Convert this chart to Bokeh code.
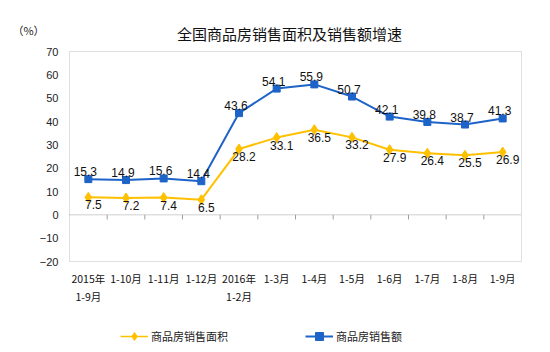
import numpy as np
from bokeh.plotting import figure
from bokeh.models import (ColumnDataSource, LabelSet, Label, FixedTicker,
                          Legend, LegendItem, Range1d, LinearAxis)
from bokeh.core.properties import value
from bokeh.embed import file_html
from bokeh.resources import INLINE

categories = ["2015年\n1-9月", "1-10月", "1-11月", "1-12月", "2016年\n1-2月", "1-3月",
              "1-4月", "1-5月", "1-6月", "1-7月", "1-8月", "1-9月"]
area_growth = [7.5, 7.2, 7.4, 6.5, 28.2, 33.1, 36.5, 33.2, 27.9, 26.4, 25.5, 26.9]
sales_growth = [15.3, 14.9, 15.6, 14.4, 43.6, 54.1, 55.9, 50.7, 42.1, 39.8, 38.7, 41.3]
y_ticks = [70, 60, 50, 40, 30, 20, 10, 0, -10, -20]
series_names = ["商品房销售面积", "商品房销售额"]
title_text = "全国商品房销售面积及销售额增速"
unit_text = "（%）"

BLUE = "#1E64C8"
YELLOW = "#FFC000"
CJK = "Noto Sans CJK SC"
NUM = "Liberation Sans"

W, H = 550, 352
# plotting area in canvas pixels
PL, PR, PT, PB = 69, 521, 51, 261

n = len(categories)
xs = np.arange(n) + 0.5
ymin, ymax = min(y_ticks), max(y_ticks)

# ranges so that the whole canvas is the frame and the data area sits at PL..PR / PT..PB
xu = (PR - PL) / n
yu = (PB - PT) / (ymax - ymin)
x0 = -PL / xu
x1 = x0 + W / xu
y1 = ymax + PT / yu
y0 = y1 - H / yu

src = ColumnDataSource(dict(
    x=xs, area=area_growth, sales=sales_growth,
    area_t=[f"{v:.1f}" for v in area_growth],
    sales_t=[f"{v:.1f}" for v in sales_growth],
))

p = figure(width=W, height=H, output_backend="svg", toolbar_location=None,
           x_range=Range1d(x0, x1), y_range=Range1d(y0, y1),
           x_axis_type=None, y_axis_type=None,
           min_border=0, min_border_left=0, min_border_right=0,
           min_border_top=0, min_border_bottom=0)
p.title.visible = False
p.background_fill_color = "white"
p.border_fill_color = "white"
p.outline_line_color = None
p.grid.visible = False

# axes drawn inside the frame at fixed locations
yax = LinearAxis(fixed_location=0, ticker=FixedTicker(ticks=y_ticks))
yax.axis_line_color = None
yax.major_tick_line_color = None
yax.minor_tick_line_color = None
yax.major_tick_out = 0
yax.major_tick_in = 0
yax.major_label_text_font = NUM
yax.major_label_text_font_size = "11px"
yax.major_label_text_color = "#222222"
yax.major_label_standoff = 11
p.add_layout(yax, "left")

xax = LinearAxis(fixed_location=ymin, ticker=FixedTicker(ticks=list(xs)))
xax.major_label_overrides = {float(x): c for x, c in zip(xs, categories)}
xax.axis_line_color = None
xax.major_tick_line_color = None
xax.minor_tick_line_color = None
xax.major_tick_out = 0
xax.major_tick_in = 0
xax.major_label_text_font = CJK
xax.major_label_text_font_size = "10.5px"
xax.major_label_text_color = "#111111"
xax.major_label_standoff = 9
p.add_layout(xax, "below")

# plotting-area border
p.quad(left=[0], right=[n], bottom=[ymin], top=[ymax], fill_color=None,
       line_color="#BFBFBF", line_dash="1 1", line_width=1)

# zero line and boundary ticks
p.line(x=[0, n], y=[0, 0], line_color="#A0A0A0", line_dash="1 1", line_width=1)
bounds = np.arange(1, n)
p.segment(x0=bounds, x1=bounds, y0=[0] * len(bounds), y1=[-2] * len(bounds),
          line_color="#A0A0A0", line_width=1)

# series
p.line("x", "area", source=src, line_color=YELLOW, line_width=2)
p.scatter("x", "area", source=src, marker="diamond", size=10,
          fill_color=YELLOW, line_color=YELLOW)
p.line("x", "sales", source=src, line_color=BLUE, line_width=2)
p.scatter("x", "sales", source=src, marker="square", size=7,
          fill_color=BLUE, line_color=BLUE)

p.add_layout(LabelSet(x="x", y="sales", text="sales_t", source=src,
                      text_font=value(NUM), text_font_size="12px", text_color="#111111",
                      text_align="center", text_baseline="bottom",
                      x_offset=-3, y_offset=3))
p.add_layout(LabelSet(x="x", y="area", text="area_t", source=src,
                      text_font=value(NUM), text_font_size="12px", text_color="#111111",
                      text_align="center", text_baseline="top",
                      x_offset=5, y_offset=-3))

# title and unit
p.add_layout(Label(x=(289 - PL) / xu, y=ymax + (PT - 33) / yu,
                   text=title_text, text_font=CJK, text_font_size="15px",
                   text_align="center", text_baseline="middle", text_color="#111111"))
p.add_layout(Label(x=(28 - PL) / xu, y=ymax + (PT - 29) / yu,
                   text=unit_text, text_font=CJK, text_font_size="11px",
                   text_align="center", text_baseline="middle", text_color="#222222"))

# legend-only glyphs (smaller markers, thinner lines, as in the reference legend);
# their single point is NaN so nothing is drawn in the plot area
blank = ColumnDataSource(dict(x=[np.nan], y=[np.nan]))
lg_la = p.line("x", "y", source=blank, line_color=YELLOW, line_width=1.5)
lg_sa = p.scatter("x", "y", source=blank, marker="diamond", size=7,
                  fill_color=YELLOW, line_color=YELLOW)
lg_lb = p.line("x", "y", source=blank, line_color=BLUE, line_width=2)
lg_sb = p.scatter("x", "y", source=blank, marker="square", size=6,
                  fill_color=BLUE, line_color=BLUE)

legend = Legend(items=[LegendItem(label=series_names[0], renderers=[lg_la, lg_sa]),
                       LegendItem(label=series_names[1], renderers=[lg_lb, lg_sb])],
                orientation="horizontal", location=(120, 6), margin=0,
                label_text_font=CJK, label_text_font_size="11px",
                label_text_color="#222222", glyph_width=28, spacing=77,
                background_fill_alpha=0, border_line_color=None, padding=0,
                label_standoff=3)
p.add_layout(legend, "center")

open("out.html", "w").write(file_html(p, INLINE))
